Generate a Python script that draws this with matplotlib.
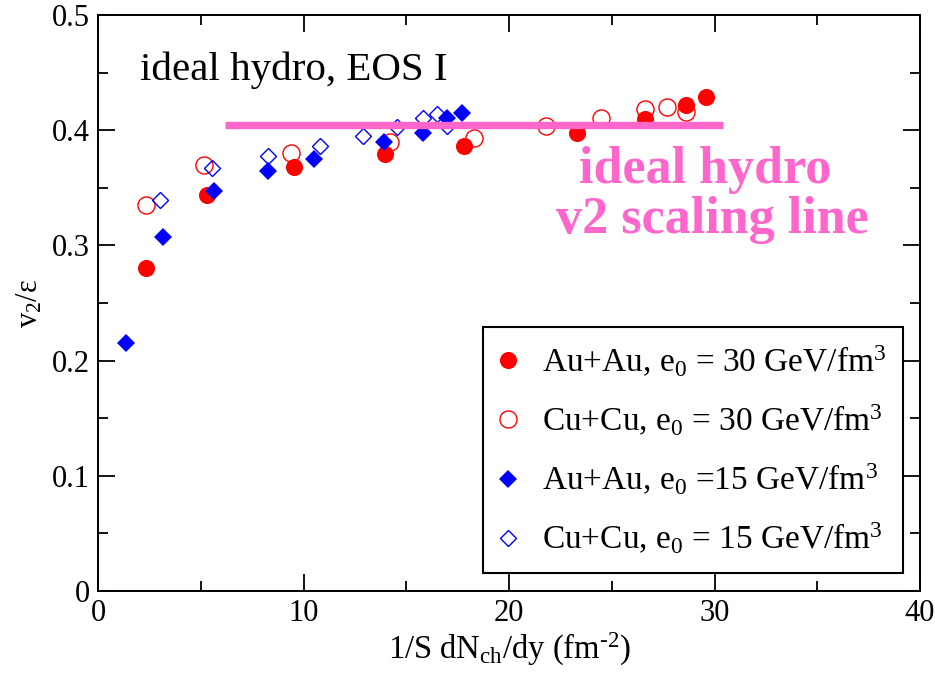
import matplotlib
matplotlib.use('Agg')
import matplotlib.pyplot as plt
from matplotlib.ticker import MultipleLocator

plt.rcParams['font.family'] = ['Liberation Serif', 'DejaVu Serif']
plt.rcParams['mathtext.fontset'] = 'custom'
plt.rcParams['mathtext.rm'] = 'Liberation Serif'
plt.rcParams['mathtext.it'] = 'Liberation Serif:italic'
plt.rcParams['mathtext.bf'] = 'Liberation Serif:bold'

# v2/eps vs 1/S dNch/dy, ideal hydro with EOS I
auau30_x = [2.34, 5.3, 9.54, 13.97, 17.8, 23.3, 26.6, 28.6, 29.6]
auau30_y = [0.280, 0.344, 0.368, 0.379, 0.386, 0.398, 0.410, 0.422, 0.429]

cucu30_x = [2.34, 5.16, 9.4, 14.2, 18.3, 21.8, 24.5, 26.6, 27.7, 28.6]
cucu30_y = [0.335, 0.370, 0.380, 0.390, 0.393, 0.404, 0.411, 0.418, 0.420, 0.416]

auau15_x = [1.36, 3.16, 5.64, 8.27, 10.5, 13.9, 15.8, 17.0, 17.7]
auau15_y = [0.215, 0.307, 0.347, 0.365, 0.375, 0.390, 0.398, 0.411, 0.415]

cucu15_x = [3.0, 5.55, 8.27, 10.8, 12.9, 14.55, 15.8, 16.5, 17.0]
cucu15_y = [0.339, 0.367, 0.378, 0.386, 0.395, 0.403, 0.411, 0.414, 0.404]

# hand-drawn scaling line
scaling_x = [6.2, 30.4]
scaling_y = [0.4045, 0.4045]

labels = [r'Au+Au, e$_0$ = 30 GeV/fm$^3$',
          r'Cu+Cu, e$_0$ = 30 GeV/fm$^3$',
          r'Au+Au, e$_0$ =15 GeV/fm$^3$',
          r'Cu+Cu, e$_0$ = 15 GeV/fm$^3$']

pink = '#ff66cc'

fig = plt.figure(figsize=(9.35, 6.82), dpi=100)
ax = fig.add_axes([0.1048, 0.1334, 0.8792, 0.8446])

ax.plot(auau30_x, auau30_y, 'o', color='red', ms=12.3, mew=0, label=labels[0])
ax.plot(cucu30_x, cucu30_y, 'o', mfc='none', mec='red', ms=12.3, mew=1.0,
        label=labels[1])
ax.plot(auau15_x, auau15_y, 'D', color='blue', ms=8.9, mew=0, label=labels[2])
ax.plot(cucu15_x, cucu15_y, 'D', mfc='none', mec='blue', ms=8.6, mew=1.0,
        label=labels[3])

ax.plot(scaling_x, scaling_y, '-', color=pink, lw=5.3, solid_capstyle='butt',
        zorder=5)

ax.text(2.04, 0.4436, 'ideal hydro, EOS I', fontsize=29.5, zorder=6)
ax.text(29.54, 0.354, 'ideal hydro', fontsize=37.5, fontweight='bold',
        color=pink, ha='center', zorder=6)
ax.text(29.9, 0.311, 'v2 scaling line', fontsize=37.5, fontweight='bold',
        color=pink, ha='center', zorder=6)

ax.set_xlim(0, 40)
ax.set_ylim(0, 0.5)
ax.xaxis.set_major_locator(MultipleLocator(10))
ax.xaxis.set_minor_locator(MultipleLocator(5))
ax.yaxis.set_minor_locator(MultipleLocator(0.05))
ax.set_yticks([0, 0.1, 0.2, 0.3, 0.4, 0.5])
ax.set_yticklabels(['0', '0.1', '0.2', '0.3', '0.4', '0.5'])

ax.tick_params(which='both', direction='in', top=True, right=True,
               width=1.3, labelsize=22, pad=6)
ax.tick_params(which='major', length=12.5)
ax.tick_params(which='minor', length=7)
for s in ax.spines.values():
    s.set_linewidth(1.4)

ax.set_xlabel(r'1/S dN$_{\text{ch}}$/dy (fm$^{\text{-2}}$)', fontsize=23.5,
              labelpad=2)
ax.set_ylabel(r'v$_2$/ε', fontsize=22, labelpad=5)

leg = ax.legend(loc='lower right', bbox_to_anchor=(0.979, 0.031),
                borderaxespad=0, fontsize=24, markerscale=1.0,
                handlelength=0.45, handletextpad=0.8, borderpad=0.5,
                labelspacing=0.72, fancybox=False, framealpha=1,
                edgecolor='black')
leg.get_frame().set_linewidth(1.5)
leg.set_zorder(7)

fig.savefig('out.png', dpi=100)
